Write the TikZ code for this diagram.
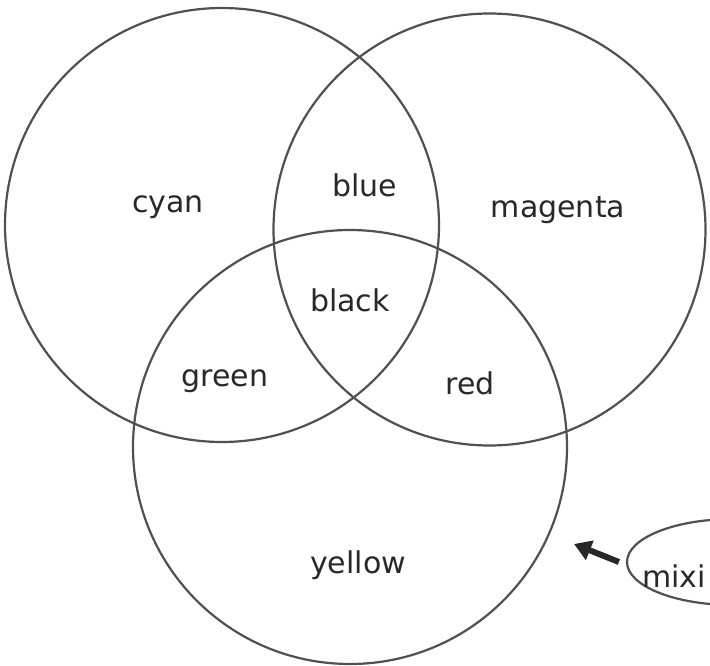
\documentclass[tikz,border=0pt]{standalone}
\usepackage{fontspec}
\setmainfont{DejaVu Sans}
\usetikzlibrary{shapes.geometric,arrows.meta}
\definecolor{pen}{RGB}{80,80,80}
\definecolor{ink}{RGB}{40,40,40}
\tikzset{
  ring/.style={draw=pen, line width=2.2pt},
  lbl/.style={font=\fontsize{30}{36}\selectfont, text=ink, inner sep=0pt},
  bubble/.style={draw=pen, line width=2.2pt, ellipse, minimum width=212pt, minimum height=86pt, inner sep=0pt},
  pointer/.style={draw=ink, line width=6pt, -{Triangle[length=17pt,width=20pt]}}
}
\begin{document}
\begin{tikzpicture}[x=1pt,y=-1pt]
\useasboundingbox (0,0) rectangle (710,666);
\fill[white] (0,0) rectangle (710,666);
\clip (0,0) rectangle (710,666);
\draw[ring] (222,225) circle[radius=217];
\draw[ring] (489.5,229.5) circle[radius=216];
\draw[ring] (350,447) circle[radius=217];
\node[lbl] (cyan) at (168,207) {cyan};
\node[lbl] (blue) at (365,185) {blue};
\node[lbl] (magenta) at (558,210) {magenta};
\node[lbl] (black) at (350,300) {black};
\node[lbl] (green) at (225,381) {green};
\node[lbl] (red) at (470,383) {red};
\node[lbl] (yellow) at (358,565) {yellow};
\node[bubble] (mix) at (733,562) {};
\node[lbl, anchor=west] (mixt) at (642,576) {mixi};
\coordinate (tip) at (574,544);
\draw[pointer] ([xshift=-7pt]mix.west) -- (tip);
\end{tikzpicture}
\end{document}
